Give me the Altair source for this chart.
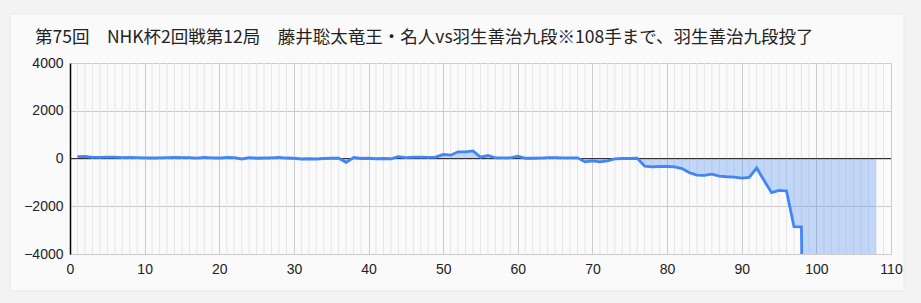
import altair as alt
import pandas as pd

TITLE = "第75回　NHK杯2回戦第12局　藤井聡太竜王・名人vs羽生善治九段※108手まで、羽生善治九段投了"

moves = list(range(1, 109))
scores = [
    80, 90, 50, 50, 55, 60, 40, 50, 40, 30,
    20, 30, 40, 50, 35, 40, 20, 50, 30, 20,
    50, 40, -20, 40, 10, 20, 30, 50, 20, 10,
    -20, -10, -20, 0, 10, 10, -160, 40, 0, 10,
    -10, 0, -10, 80, 40, 60, 60, 50, 55, 170,
    140, 280, 280, 320, 55, 125, 30, 30, 30, 100,
    10, 10, 20, 40, 35, 30, 30, 30, -140, -100,
    -140, -100, -20, 0, 0, 10, -320, -350, -335, -335,
    -350, -420, -600, -695, -710, -655, -740, -765, -780, -820,
    -790, -400, -920, -1430, -1335, -1360, -2850, -2865, -31997, -31997,
    -31997, -31997, -31997, -31997, -31997, -31997, -31997, -31997,
]

x_ticks = list(range(0, 111, 10))
y_ticks = [-4000, -2000, 0, 2000, 4000]
minor_ticks = [v for v in range(1, 110) if v % 10 != 0]

df = pd.DataFrame({"move": moves, "score": scores})
minor_df = pd.DataFrame({"m": minor_ticks})
one = pd.DataFrame({"t": [TITLE]})

xs = alt.Scale(domain=[0, 110], nice=False, zero=False)
ys = alt.Scale(domain=[-4000, 4000], nice=False)

x_axis = alt.Axis(values=x_ticks, title=None, grid=True, gridColor="#cccccc",
                  domain=False, ticks=False, labelPadding=8, labelFontSize=14,
                  labelFont="Liberation Sans", labelColor="#222222", labelAngle=0,
                  labelOverlap=False, labelFlush=False, labelBound=False, format="d")
y_axis = alt.Axis(values=y_ticks, title=None, grid=True, gridColor="#cccccc",
                  domain=True, domainColor="#000000", domainWidth=1.5, ticks=False,
                  labelPadding=7, labelFontSize=14, labelFont="Liberation Sans",
                  labelColor="#222222", format="d", labelOverlap=False, labelFlush=False)

outer = alt.Chart(one).mark_rect(fill=None, stroke="#f3f3f3", strokeWidth=40, clip=False).encode(
    x=alt.value(-80), x2=alt.value(854), y=alt.value(-69), y2=alt.value(248))
frame = alt.Chart(one).mark_rect(fill=None, stroke="#e8e8e8", strokeWidth=1, clip=False).encode(
    x=alt.value(-60), x2=alt.value(834), y=alt.value(-49), y2=alt.value(228))

minor = alt.Chart(minor_df).mark_rule(color="#e6e6e6", strokeWidth=1).encode(
    x=alt.X("m:Q", scale=xs, axis=x_axis),
    y=alt.value(0), y2=alt.value(191))

area = alt.Chart(df).mark_area(color="#4285F4", opacity=0.3, clip=True).encode(
    x=alt.X("move:Q", scale=xs, axis=x_axis),
    y=alt.Y("score:Q", scale=ys, axis=y_axis),
    y2=alt.datum(0))

zero = alt.Chart(one).mark_rule(color="#333333", strokeWidth=1).encode(
    y=alt.Y("z:Q", scale=ys, axis=y_axis),
    x=alt.value(0), x2=alt.value(821)).transform_calculate(z="0")

line = alt.Chart(df).mark_line(color="#4285F4", strokeWidth=2.8, clip=True).encode(
    x=alt.X("move:Q", scale=xs, axis=x_axis),
    y=alt.Y("score:Q", scale=ys, axis=y_axis))

title = alt.Chart(one).mark_text(align="left", baseline="alphabetic", fontSize=17.5,
                                 font="Noto Sans CJK JP", color="#222222").encode(
    text="t:N", x=alt.value(-35), y=alt.value(-20))

chart = alt.layer(outer, frame, minor, area, zero, line, title).properties(
    width=821, height=191,
    autosize=alt.AutoSizeParams(type="none"),
    padding={"left": 70, "top": 63, "right": 30, "bottom": 49},
    background="#fafafa",
).configure_view(stroke=None)

chart.save("out.html", embed_options={"renderer": "svg", "actions": False})
